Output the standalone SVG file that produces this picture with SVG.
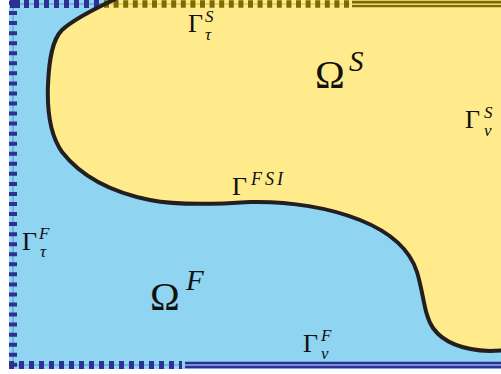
<svg xmlns="http://www.w3.org/2000/svg" width="501" height="374" viewBox="0 0 501 374">
<style>
.up{font-family:"Liberation Serif","DejaVu Serif",serif;fill:#111}
.it{font-family:"Liberation Serif","DejaVu Serif",serif;font-style:italic;fill:#111}
.bd{stroke:#2e3192;stroke-width:8;fill:none}
.od{stroke:#7d6c00;stroke-width:7.5;fill:none}
</style>
<rect width="501" height="374" fill="#ffffff"/>
<g id="fluid">
<rect x="9" y="0" width="492" height="369" fill="#8fd4f0"/>
</g>
<g id="solid">
<path d="M 122,-4 C 100,6 75,18 62,30 C 52,40 49,60 48,85 C 47,110 50,135 62,152 C 80,175 110,192 150,200 C 180,206 220,204 250,202 C 290,201 330,208 360,220 C 390,232 410,250 417,272 C 424,295 424,315 433,328 C 443,342 462,350 490,351 L 510,350 L 510,-10 L 122,-10 Z" fill="#ffeb8c" stroke="none"/>
</g>
<g id="boundaries">
<line x1="13" y1="0" x2="13" y2="369" stroke="#5f8fd2" stroke-width="1"/>
<line x1="9" y1="4" x2="103" y2="4" stroke="#5f8fd2" stroke-width="1"/>
<line x1="103" y1="4" x2="350" y2="4" stroke="#c9b85a" stroke-width="1"/>
<line x1="9" y1="365" x2="182" y2="365" stroke="#5f8fd2" stroke-width="1"/>
<line class="bd" x1="13" y1="1" x2="13" y2="369" stroke-dasharray="4 6.05"/>
<line class="bd" x1="10" y1="4" x2="103" y2="4" stroke-dasharray="10 4 5 5 5 5 5 5 5 5 5 5 5 5 5 5 5 5 5 5 5 4"/>
<line class="od" x1="104" y1="4" x2="350" y2="4" stroke-dasharray="5 4.6"/>
<line class="bd" x1="9" y1="365" x2="182" y2="365" stroke-dasharray="5 5"/>
<line x1="185" y1="365" x2="501" y2="365" stroke="#2e3192" stroke-width="6.5"/>
<line x1="185" y1="365" x2="501" y2="365" stroke="#8fb4ea" stroke-width="1.6"/>
<line x1="352" y1="4" x2="501" y2="4" stroke="#7d6c00" stroke-width="6.5"/>
<line x1="352" y1="4.3" x2="501" y2="4.3" stroke="#e6d983" stroke-width="1.4"/>
</g>
<g id="interface">
<path d="M 122,-4 C 100,6 75,18 62,30 C 52,40 49,60 48,85 C 47,110 50,135 62,152 C 80,175 110,192 150,200 C 180,206 220,204 250,202 C 290,201 330,208 360,220 C 390,232 410,250 417,272 C 424,295 424,315 433,328 C 443,342 462,350 490,351 L 510,350" fill="none" stroke="#231f20" stroke-width="4"/>
</g>
<g id="labels">
<text class="up" x="188" y="32" font-size="26">Γ</text>
<text class="it" x="205" y="22" font-size="17">S</text>
<text class="it" x="205" y="40" font-size="17">τ</text>
<text class="up" x="315" y="88" font-size="40">Ω</text>
<text class="it" x="349" y="71" font-size="29">S</text>
<text class="up" x="232" y="195" font-size="26">Γ</text>
<text class="it" x="251" y="185" font-size="18" letter-spacing="3">FSI</text>
<text class="up" x="465" y="128" font-size="26">Γ</text>
<text class="it" x="484" y="118" font-size="17">S</text>
<text class="it" x="484" y="136" font-size="17">v</text>
<text class="up" x="22" y="250" font-size="26">Γ</text>
<text class="it" x="39" y="239" font-size="17">F</text>
<text class="it" x="40" y="257" font-size="17">τ</text>
<text class="up" x="150" y="310" font-size="40">Ω</text>
<text class="it" x="186" y="290" font-size="29">F</text>
<text class="up" x="303" y="352" font-size="26">Γ</text>
<text class="it" x="321" y="341" font-size="17">F</text>
<text class="it" x="321" y="359" font-size="17">v</text>
</g>
</svg>
